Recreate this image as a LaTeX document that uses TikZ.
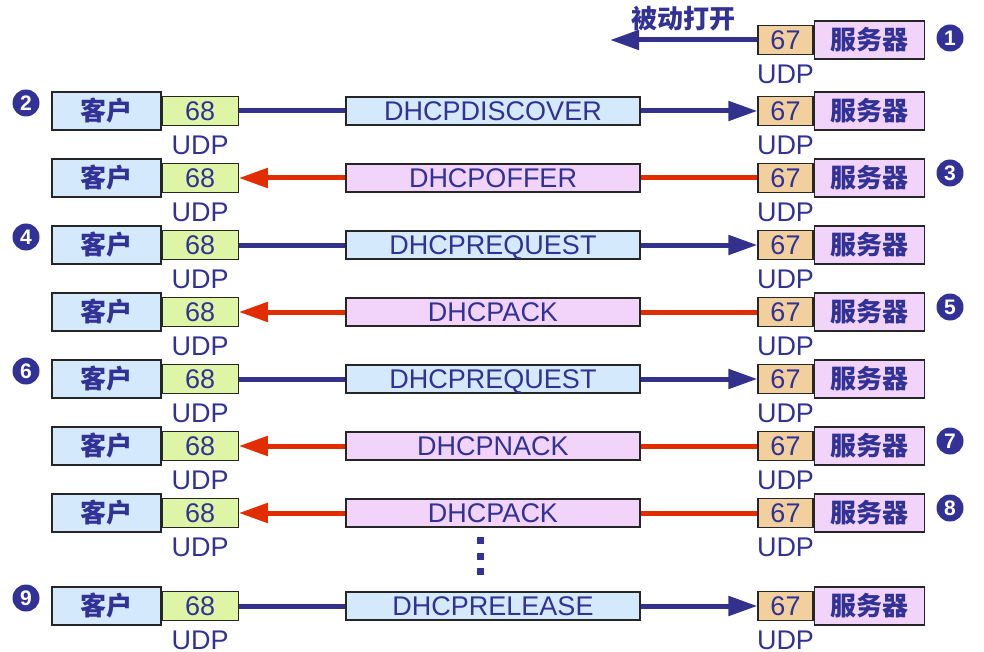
\documentclass[tikz,border=0pt]{standalone}
\usepackage{fontspec}
\setmainfont{Liberation Sans}
\newfontfamily\cjk{Noto Sans CJK SC}
\usetikzlibrary{positioning,arrows.meta}
\definecolor{navy}{RGB}{50,50,150}
\definecolor{arrowblue}{RGB}{50,50,140}
\definecolor{arrowred}{RGB}{225,45,0}
\definecolor{clientfill}{RGB}{212,234,252}
\definecolor{cportfill}{RGB}{222,245,165}
\definecolor{sportfill}{RGB}{242,208,158}
\definecolor{serverfill}{RGB}{242,212,250}
\begin{document}
\begin{tikzpicture}[x=1pt, y=-1pt,
            box/.style = {draw=black!85, line width=1.2pt, inner sep=0pt,
              text=navy, font=\fontsize{27}{30}\selectfont},
            client/.style = {box, fill=clientfill, minimum width=109pt,
              minimum height=38pt, font=\cjk\bfseries\fontsize{26}{30}\selectfont},
            server/.style = {client, fill=serverfill, minimum width=110pt},
            port68/.style = {box, fill=cportfill, minimum width=76pt, minimum height=29pt},
            port67/.style = {box, fill=sportfill, minimum width=55pt, minimum height=29pt},
            msgb/.style = {box, fill=clientfill, minimum width=294pt, minimum height=28pt,
              text depth=0pt},
            msgr/.style = {msgb, fill=serverfill},
            udp/.style = {inner sep=0pt, text=navy, font=\fontsize{27}{30}\selectfont},
            numc/.style = {circle, fill=navy, text=white, inner sep=0pt,
              minimum size=27pt, font=\bfseries\fontsize{21}{22}\selectfont},
            lineb/.style = {draw=arrowblue, line width=5pt},
            liner/.style = {draw=arrowred, line width=5pt},
            tip/.style = {-{Triangle[length=29pt,width=19pt]}}]
  \useasboundingbox (0,0) rectangle (984,652);
  % passive open
  \node[port67] (q1) at (785.5,40) {67};
  \node[server, right=0pt of q1] (s1) {服务器};
  \node[udp, below=10pt of q1] (u1) {UDP};
  \node[numc] (n1) at (950,38) {1};
  \coordinate (open) at (610,40);
  \draw[lineb, tip] (q1.west) -- (open);
  \node[udp, font=\cjk\bfseries\fontsize{26}{30}\selectfont] (t1) at (683,19) {被动打开};
  % client -> server
  \foreach \r/\yy/\txt in {2/111/DHCPDISCOVER, 4/245/DHCPREQUEST,
                           6/379/DHCPREQUEST, 9/606/DHCPRELEASE}{
    \node[client] (c\r) at (106.5,\yy) {客户};
    \node[port68, right=0pt of c\r] (p\r) {68};
    \node[msgb] (m\r) at (493,\yy) {\txt};
    \node[port67] (q\r) at (785.5,\yy) {67};
    \node[server, right=0pt of q\r] (s\r) {服务器};
    \node[udp, below=10pt of p\r] (up\r) {UDP};
    \node[udp, below=10pt of q\r] (uq\r) {UDP};
    \node[numc] (n\r) at (26,\yy-8) {\r};
    \draw[lineb] (p\r.east) -- (m\r.west);
    \draw[lineb, tip] (m\r.east) -- (q\r.west);
  }
  % server -> client
  \foreach \r/\yy/\txt in {3/178/DHCPOFFER, 5/312/DHCPACK,
                           7/446/DHCPNACK, 8/513/DHCPACK}{
    \node[client] (c\r) at (106.5,\yy) {客户};
    \node[port68, right=0pt of c\r] (p\r) {68};
    \node[msgr] (m\r) at (493,\yy) {\txt};
    \node[port67] (q\r) at (785.5,\yy) {67};
    \node[server, right=0pt of q\r] (s\r) {服务器};
    \node[udp, below=10pt of p\r] (up\r) {UDP};
    \node[udp, below=10pt of q\r] (uq\r) {UDP};
    \node[numc] (n\r) at (950,\yy-5) {\r};
    \draw[liner] (q\r.west) -- (m\r.east);
    \draw[liner, tip] (m\r.west) -- (p\r.east);
  }
  % dots
  \foreach \d in {540,556,571}
    \fill[navy] (476.5,\d-3.5) rectangle +(7,7);
\end{tikzpicture}
\end{document}
